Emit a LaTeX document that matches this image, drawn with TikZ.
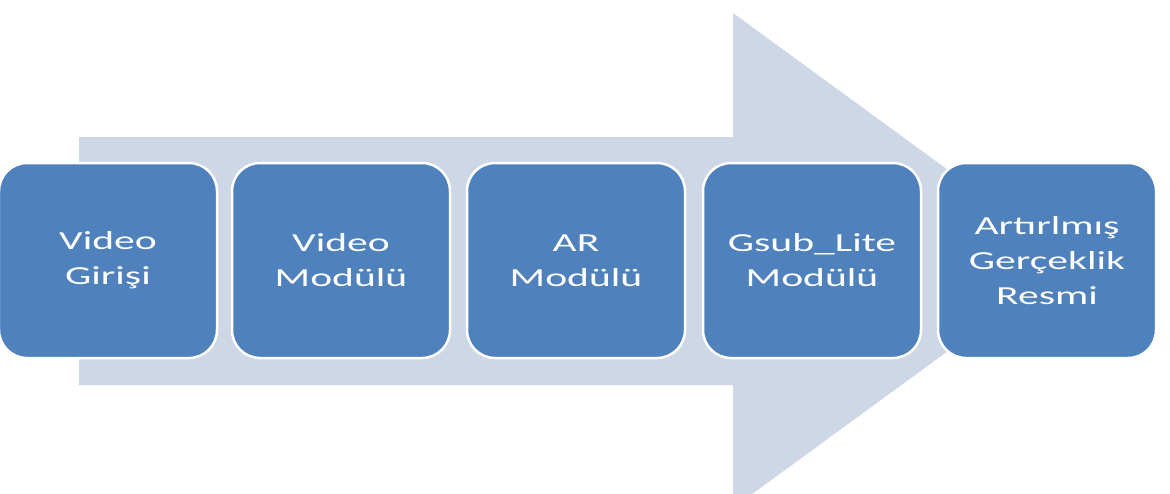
\documentclass[tikz,border=0pt]{standalone}
\usepackage{fontspec}
\newfontfamily\boxfont[FakeStretch=1.6]{Carlito}
\definecolor{boxblue}{HTML}{4F81BD}
\definecolor{arrowgray}{HTML}{CED7E6}
\tikzset{
  stepbox/.style={rectangle, rounded corners=28pt, minimum width=218pt, minimum height=195pt,
    draw=white, line width=2.5pt, fill=boxblue, inner sep=0pt, align=center, text=white,
    font=\boxfont\fontsize{26}{35}\selectfont},
  bigarrow/.style={fill=arrowgray, draw=none}
}
\begin{document}
\begin{tikzpicture}[x=1pt,y=-1pt]
\useasboundingbox (0,0) rectangle (1170,493);
\fill[bigarrow] (79,137) -- (733,137) -- (733,13) -- (1072,260.5) -- (733,508) -- (733,385) -- (79,385) -- cycle;
\node[stepbox] (b1) at (108,260.5) {Video\\Girişi};
\node[stepbox] (b2) at (341,260.5) {Video\\Modülü};
\node[stepbox] (b3) at (576,260.5) {AR\\Modülü};
\node[stepbox] (b4) at (812,260.5) {Gsub\_Lite\\Modülü};
\node[stepbox] (b5) at (1047,260.5) {Artırlmış\\Gerçeklik\\Resmi};
\end{tikzpicture}
\end{document}
